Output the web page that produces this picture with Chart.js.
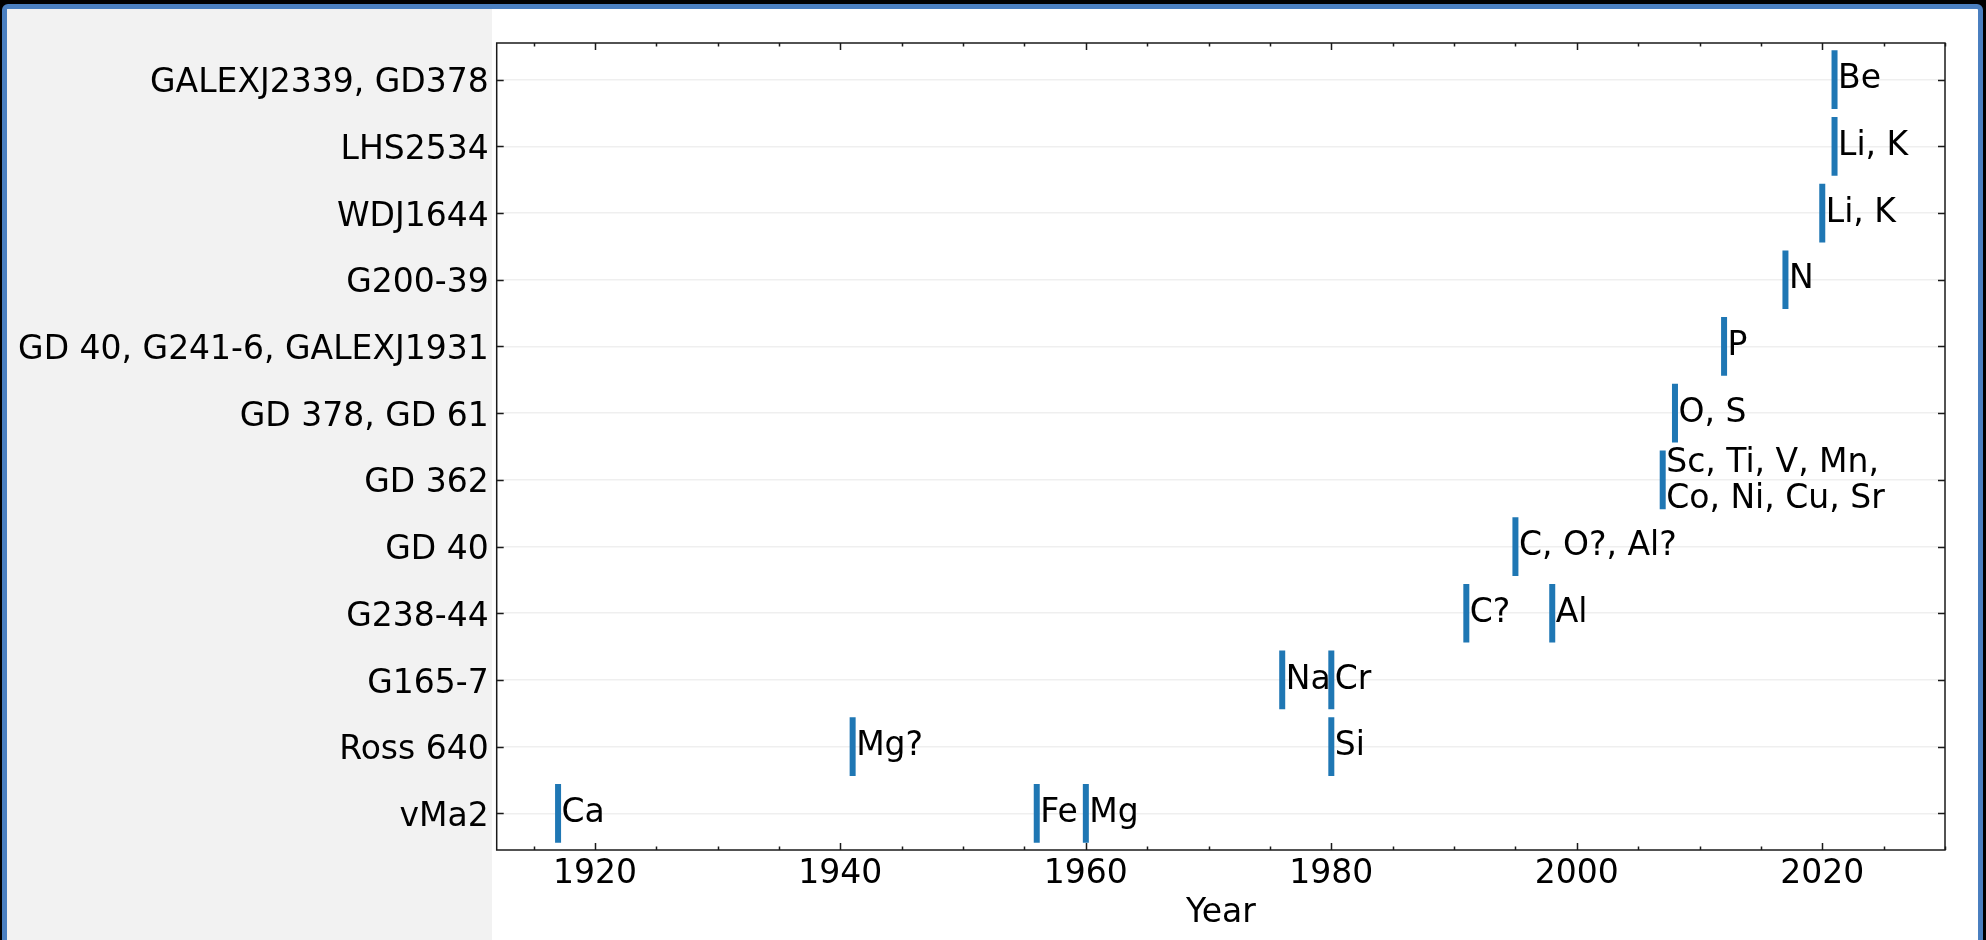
<!DOCTYPE html>
<html>
<head>
<meta charset="utf-8">
<title>Element discoveries by year</title>
<script src="https://cdn.jsdelivr.net/npm/chart.js@4.4.1/dist/chart.umd.min.js"></script>
<style>
  html, body {
    margin: 0;
    padding: 0;
    width: 1986px;
    height: 940px;
    overflow: hidden;
    background: #000;
  }
  .frame {
    position: absolute;
    left: 2px;
    top: 4px;
    width: 1971px;
    height: 980px;
    border: 5px solid #4a7fc0;
    border-radius: 6px;
    background: #fff;
    overflow: hidden;
  }
  .side-panel {
    position: absolute;
    left: 0;
    top: 0;
    width: 485px;
    height: 100%;
    background: #f2f2f2;
  }
  #chart {
    position: absolute;
    left: 0;
    top: 0;
  }
</style>
</head>
<body>
<div class="frame"><div class="side-panel"></div></div>
<canvas id="chart" width="1986" height="940"></canvas>
<script>
// Stars, bottom row first
const stars = [
  "vMa2",
  "Ross 640",
  "G165-7",
  "G238-44",
  "GD 40",
  "GD 362",
  "GD 378, GD 61",
  "GD 40, G241-6, GALEXJ1931",
  "G200-39",
  "WDJ1644",
  "LHS2534",
  "GALEXJ2339, GD378",
];

// One entry per detection: year, star row, elements
const markYears = [1917, 1956, 1960, 1941, 1980, 1976, 1980, 1991, 1998, 1995, 2007, 2008, 2012, 2017, 2020, 2021, 2021];
const markRows = [0, 0, 0, 1, 1, 2, 2, 3, 3, 4, 5, 6, 7, 8, 9, 10, 11];
const markLabels = [
  "Ca", "Fe", "Mg", "Mg?", "Si", "Na", "Cr", "C?", "Al", "C, O?, Al?",
  "Sc, Ti, V, Mn,\nCo, Ni, Cu, Sr", "O, S", "P", "N", "Li, K", "Li, K", "Be",
];

const xTicks = [1920, 1940, 1960, 1980, 2000, 2020];
const xMin = 1912;
const xMax = 2030;
const minorStep = 5;
const halfBar = 0.44;

const FONT = "'DejaVu Sans', 'Liberation Sans', sans-serif";
const FONT_SIZE = 33;
const BAR_COLOR = "#1f77b4";
const AXIS_COLOR = "#1a1a1a";

// Each detection is a short vertical segment at its year
const datasets = markYears.map((year, i) => ({
  data: [
    { x: year, y: markRows[i] - halfBar },
    { x: year, y: markRows[i] + halfBar },
  ],
  showLine: true,
  borderColor: BAR_COLOR,
  borderWidth: 6,
  borderCapStyle: "butt",
  pointRadius: 0,
  pointHoverRadius: 0,
}));

// Element names next to each segment
const markLabelPlugin = {
  id: "markLabels",
  afterDatasetsDraw(chart) {
    const { ctx, scales } = chart;
    ctx.save();
    ctx.font = FONT_SIZE + "px " + FONT;
    ctx.fillStyle = "#000";
    ctx.textAlign = "left";
    ctx.textBaseline = "alphabetic";
    markLabels.forEach((label, i) => {
      const px = scales.x.getPixelForValue(markYears[i]) + 3.5;
      const py = scales.y.getPixelForValue(markRows[i]);
      const lines = label.split("\n");
      if (lines.length === 1) {
        ctx.fillText(lines[0], px, py + 8.6);
      } else {
        ctx.fillText(lines[0], px, py - 8.3);
        ctx.fillText(lines[1], px, py + 27.7);
      }
    });
    ctx.restore();
  },
};

// Closed box with inward ticks on all four sides
const axesBoxPlugin = {
  id: "axesBox",
  afterDraw(chart) {
    const { ctx, chartArea: a, scales } = chart;
    ctx.save();
    ctx.strokeStyle = AXIS_COLOR;
    ctx.lineWidth = 1.5;
    ctx.strokeRect(a.left, a.top, a.right - a.left, a.bottom - a.top);

    ctx.beginPath();
    for (let v = Math.ceil(xMin / minorStep) * minorStep; v <= xMax; v += minorStep) {
      const px = Math.round(scales.x.getPixelForValue(v)) + 0.5;
      const len = xTicks.includes(v) ? 7 : 3.5;
      ctx.moveTo(px, a.bottom);
      ctx.lineTo(px, a.bottom - len);
      ctx.moveTo(px, a.top);
      ctx.lineTo(px, a.top + len);
    }
    stars.forEach((s, i) => {
      const py = Math.round(scales.y.getPixelForValue(i)) + 0.5;
      ctx.moveTo(a.left, py);
      ctx.lineTo(a.left + 7, py);
      ctx.moveTo(a.right, py);
      ctx.lineTo(a.right - 7, py);
    });
    ctx.stroke();
    ctx.restore();
  },
};

const ctx = document.getElementById("chart").getContext("2d");
new Chart(ctx, {
  type: "scatter",
  data: { datasets },
  plugins: [markLabelPlugin, axesBoxPlugin],
  options: {
    responsive: false,
    animation: false,
    devicePixelRatio: 1,
    layout: {
      padding: { left: 0, top: 43, right: 41, bottom: 0 },
    },
    plugins: {
      legend: { display: false },
      tooltip: { enabled: false },
    },
    scales: {
      x: {
        type: "linear",
        position: "bottom",
        min: xMin,
        max: xMax,
        afterBuildTicks: (scale) => {
          scale.ticks = xTicks.map((v) => ({ value: v }));
        },
        afterFit: (scale) => {
          scale.height = 90;
        },
        ticks: {
          autoSkip: false,
          maxRotation: 0,
          padding: 5,
          color: "#000",
          font: { family: FONT, size: FONT_SIZE },
          callback: (value) => String(value),
        },
        grid: { display: false, drawTicks: false },
        border: { display: false },
        title: {
          display: true,
          text: "Year",
          color: "#000",
          font: { family: FONT, size: FONT_SIZE },
          padding: { top: 0, bottom: 7 },
        },
      },
      y: {
        type: "linear",
        position: "left",
        min: -0.55,
        max: 11.55,
        afterBuildTicks: (scale) => {
          scale.ticks = stars.map((s, i) => ({ value: i }));
        },
        afterFit: (scale) => {
          scale.width = 496.7;
        },
        ticks: {
          autoSkip: false,
          padding: 8,
          labelOffset: 4,
          color: "#000",
          font: { family: FONT, size: FONT_SIZE },
          callback: (value) => stars[value],
        },
        grid: {
          color: "#efefef",
          lineWidth: 1.5,
          drawTicks: false,
        },
        border: { display: false },
      },
    },
  },
});
</script>
</body>
</html>
